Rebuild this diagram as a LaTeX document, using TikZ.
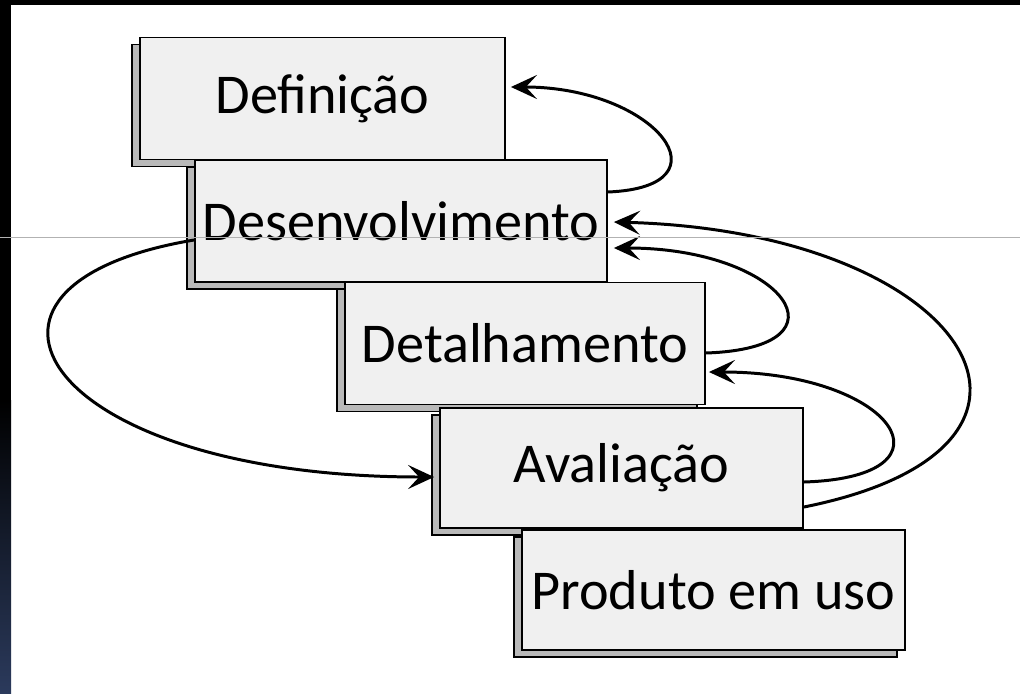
\documentclass[tikz,border=0pt]{standalone}
\usepackage{fontspec}
\setmainfont{Carlito}
\usetikzlibrary{arrows.meta,shadows,calc}
\tikzset{feedback/.style = {-{Stealth[length=0.52cm,width=0.48cm,inset=0.22cm]}, line width=1.7pt}}

\begin{document}
\begin{tikzpicture}[x=0.02cm,y=-0.02cm,
    stage/.style={draw,line width=1.1pt,fill=gray!12,minimum height=2.44cm,inner sep=0pt,
      font=\fontsize{32}{36}\selectfont,
      copy shadow={shadow xshift=-0.16cm,shadow yshift=-0.14cm,fill=gray!55}}]
    % frame of the slide
    \fill[white] (0,0) rectangle (1020,693);
    \useasboundingbox (0,0) rectangle (1020,693);
    \fill[black] (0,0) rectangle (1020,5);
    \fill[black] (0,0) rectangle (11,400);
    \shade[top color=black,bottom color={rgb,255:red,43;green,58;blue,92}] (0,400) rectangle (11,693);

    % stages
    \node[stage, minimum width=7.3cm] (def) at (322.5,98.5) {Definição};
    \node[stage, minimum width=8.24cm] (des) at (401,221) {Desenvolvimento};
    \node[stage, minimum width=7.2cm] (det) at (525,343.5) {Detalhamento};
    \node[stage, minimum width=7.26cm, minimum height=2.4cm] (ava) at (621.5,468) {Avaliação};
    \node[stage, minimum width=7.66cm, minimum height=2.4cm] (pro) at (713.5,590) {Produto em uso};

    % feedback loops
    \draw[feedback] ($(des.east)+(0,-29)$) .. controls +(125,-5) and +(145,0) .. ($(def.east)+(5,-11.5)$);
    \draw[feedback] ($(det.east)+(0,9.5)$) .. controls +(150,-5) and +(170,0) .. ($(des.east)+(6,27)$);
    \draw[feedback] ($(ava.east)+(0,14)$) .. controls +(160,-5) and +(185,0) .. ($(det.east)+(3,28.5)$);
    \draw[feedback] ($(ava.east)+(0,39)$) .. controls +(300,-60) and +(355,10) .. ($(des.east)+(6,1)$);
    \draw[feedback] ($(des.west)+(0,19)$) .. controls +(-270,45) and +(-390,0) .. ($(ava.west)+(-5,9)$);

    \draw[gray!60, line width=0.5pt] (0,237) -- (1020,237);
\end{tikzpicture}
\end{document}
